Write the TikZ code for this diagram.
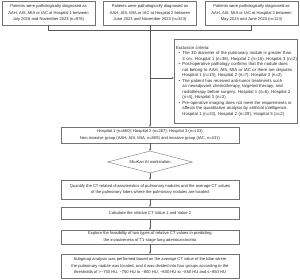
\documentclass[tikz,border=0pt]{standalone}
\usepackage{fontspec}
\setmainfont{Liberation Sans}
\usetikzlibrary{shapes.geometric,arrows.meta}

\begin{document}
\begin{tikzpicture}[x=2pt,y=-2pt,line width=0.8pt,
  >={Stealth[length=4.5pt,width=4pt]},
  box/.style={draw=black!55,inner sep=0pt,align=center,text=black!85,
    font=\fontsize{8.2}{12.6}\selectfont},
  topbox/.style={box,minimum width=186pt,minimum height=48pt},
  mainbox/.style={box,minimum width=356pt},
  link/.style={draw=black!65}]
  \useasboundingbox (0,0) rectangle (300,279);

  \node[topbox] (h1) at (48.5,13)
    {Patients were pathologically diagnosed as\\AAH, AIS, MIA or IAC at Hospital 1 between\\July 2016 and November 2023 (n=976)};
  \node[topbox] (h2) at (150,13)
    {Patients were pathologically diagnosed as\\AAH, AIS, MIA or IAC at Hospital 2 between\\June 2023 and November 2023 (n=323)};
  \node[topbox] (h3) at (251.5,13)
    {Patients were pathologically diagnosed as\\AAH, AIS, MIA or IAC at Hospital 3 between\\May 2024 and June 2024 (n=113)};

  \node[box,align=left,text width=238pt,inner xsep=4pt,minimum height=168pt,
    font=\fontsize{8.5}{11}\selectfont] (excl) at (235.5,81)
    {\begin{tabular}{@{\hspace{5pt}}l@{\hspace{5pt}}l@{}}
      \multicolumn{2}{@{}l@{}}{Exclusion criteria:}\\
      \textbullet & The 3D diameter of the pulmonary nodule is greater than\\
        & 3 cm. Hospital 1 (n=38), Hospital 2 (n=15), Hospital 3 (n=2)\\
      \textbullet & Post-operative pathology confirms that the nodule does\\
        & not belong to AAH, AIS, MIA or IAC or there are disputes.\\
        & Hospital 1 (n=13), Hospital 2 (n=7), Hospital 3 (n=2)\\
      \textbullet & The patient has received anti-tumor treatments such\\
        & as neoadjuvant chemotherapy, targeted therapy, and\\
        & radiotherapy before surgery. Hospital 1 (n=6), Hospital 2\\
        & (n=4), Hospital 3 (n=3)\\
      \textbullet & Pre-operative imaging does not meet the requirements or\\
        & affects the quantitative analysis by artificial intelligence.\\
        & Hospital 1 (n=24), Hospital 2 (n=29), Hospital 3 (n=2)
    \end{tabular}};

  \node[mainbox,minimum height=32pt] (hosp) at (150,135)
    {Hospital 1 (n=860); Hospital 2 (n=267); Hospital 3 (n=103)\\Non-invasive group (AAH, AIS, MIA, n=808) and invasive group (IAC, n=431)};
  \node[box,diamond,aspect=3.9,minimum width=170pt,minimum height=44pt] (ai) at (150,162)
    {ShuKan AI workstation};
  \node[mainbox,minimum height=38pt] (quant) at (150,189.5)
    {Quantify the CT-related characteristics of pulmonary nodules and the average CT values\\of the pulmonary lobes where the pulmonary nodules are located};
  \node[mainbox,minimum height=24pt] (calc) at (150,213)
    {Calculate the relative CT Value 1 and Value 2};
  \node[mainbox,minimum height=28pt] (expl) at (150,237)
    {Explore the feasibility of two types of relative CT values in predicting\\the invasiveness of T1-stage lung adenocarcinoma};
  \node[mainbox,minimum height=48pt] (sub) at (150,266)
    {Subgroup analysis was performed based on the average CT value of the lobe where\\the pulmonary nodule was located, and it was divided into four groups according to the\\thresholds of >−750 HU, −750 HU to −800 HU, −800 HU to −850 HU and ≤−850 HU};

  % merge of the three cohorts
  \coordinate (bar) at (0,30);
  \coordinate (ex) at (150,78);
  \draw[link] (h1.south) -- (h1.south |- bar) -| (h3.south);
  \draw[link,->] (h2.south) -- (hosp.north);
  \draw[link,->] (ex) -- (ex -| excl.west);

  \draw[link,->] (hosp.south) -- (ai.north);
  \draw[link,->] (ai.south) -- (quant.north);
  \draw[link,->] (quant.south) -- (calc.north);
  \draw[link,->] (calc.south) -- (expl.north);
  \draw[link,->] (expl.south) -- (sub.north);
\end{tikzpicture}
\end{document}
